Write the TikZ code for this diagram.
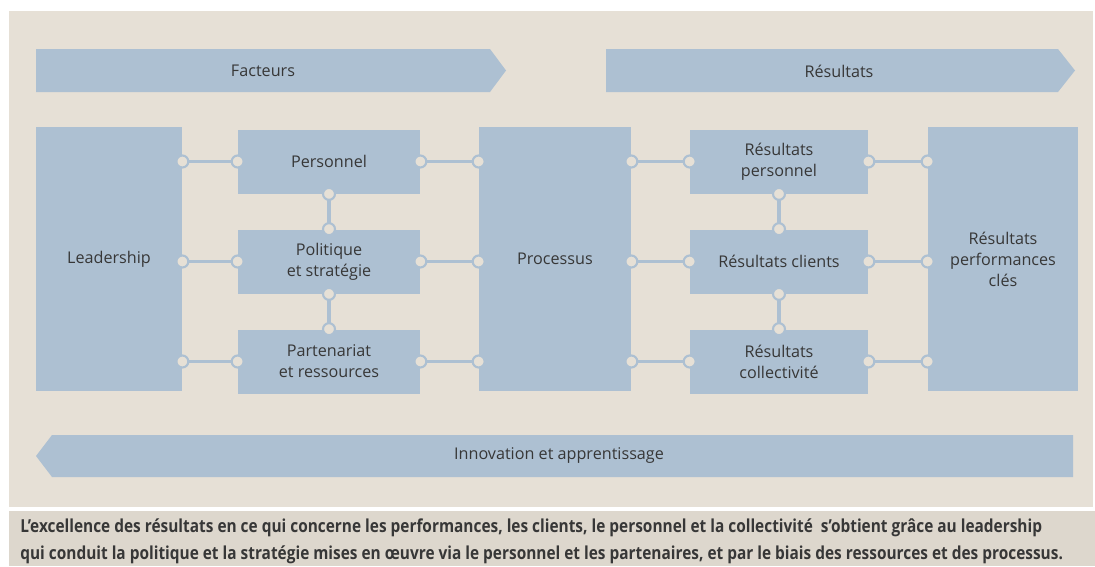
\documentclass[tikz,border=0pt]{standalone}
\usepackage{fontspec}
\setmainfont{Open Sans}
\newfontfamily\capfont[FakeStretch=0.86]{Open Sans}
\usetikzlibrary{positioning}

\definecolor{bgbeige}{RGB}{230,224,214}
\definecolor{capbeige}{RGB}{221,215,205}
\definecolor{boxblue}{RGB}{173,192,210}
\definecolor{txtgray}{RGB}{55,55,55}

\tikzset{
    box/.style={fill=boxblue, text=txtgray, align=center, inner sep=0pt,
        font=\fontsize{9.2}{12}\selectfont},
    bigbox/.style={box, minimum width=146*0.02cm, minimum height=264*0.02cm},
    smallbox/.style={box, minimum width=182*0.02cm, minimum height=64*0.02cm},
    link/.style={draw=boxblue, line width=2.2pt},
    dot/.style={circle, draw=boxblue, fill=bgbeige, line width=1.2pt,
        minimum size=6.8pt, inner sep=0pt},
    label/.style={text=txtgray, font=\fontsize{9.2}{12}\selectfont}
}

\begin{document}
\begin{tikzpicture}[x=0.02cm, y=-0.02cm]
    % Frame and background
    \useasboundingbox (0,0) rectangle (1095,566);
    \fill[white] (0,0) rectangle (1095,566);
    \fill[bgbeige] (9,11) rectangle (1093,507);
    \fill[capbeige] (9,511) rectangle (1095,566);

    % Top and bottom arrows
    \fill[boxblue] (36,49) -- (490,49) -- (506,70.5) -- (490,92) -- (36,92) -- cycle;
    \node[label] (facteurs) at (263,71) {Facteurs};
    \fill[boxblue] (606,49) -- (1058,49) -- (1075,70.5) -- (1058,92) -- (606,92) -- cycle;
    \node[label] (resultats) at (839,71) {Résultats};
    \fill[boxblue] (52,435) -- (1073,435) -- (1073,477) -- (52,477) -- (36,456) -- cycle;
    \node[label] (innov) at (559,455) {Innovation et apprentissage};

    % Boxes
    \node[bigbox] (lead) at (109,259) {Leadership};
    \node[smallbox] (pers) at (329,161.5) {Personnel};
    \node[smallbox] (pol) at (329,261.5) {Politique\\et stratégie};
    \node[smallbox] (part) at (329,361.5) {Partenariat\\et ressources};
    \node[bigbox, minimum width=152*0.02cm] (proc) at (555,259) {Processus};
    \node[smallbox, minimum width=178*0.02cm] (rpers) at (779,161.5) {Résultats\\personnel};
    \node[smallbox, minimum width=178*0.02cm] (rcli) at (779,261.5) {Résultats clients};
    \node[smallbox, minimum width=178*0.02cm] (rcol) at (779,361.5) {Résultats\\collectivité};
    \node[bigbox, minimum width=150*0.02cm] (rkey) at (1003,259) {Résultats\\performances\\clés};

    % Horizontal links
    \foreach \a/\b in {lead/pers, lead/pol, lead/part, proc/rpers, proc/rcli, proc/rcol}
        \draw[link] (\a.east |- \b.west) -- (\b.west) node[dot, pos=0] {} node[dot, pos=1] {};
    \foreach \a/\b in {pers/proc, pol/proc, part/proc, rpers/rkey, rcli/rkey, rcol/rkey}
        \draw[link] (\a.east) -- (\a.east -| \b.west) node[dot, pos=0] {} node[dot, pos=1] {};

    % Vertical links
    \foreach \a/\b in {pers/pol, pol/part, rpers/rcli, rcli/rcol}
        \draw[link] (\a.south) -- (\b.north) node[dot, pos=0] {} node[dot, pos=1] {};

    % Caption
    \node[anchor=west, text=txtgray, align=left, inner sep=0pt,
        font=\capfont\bfseries\fontsize{10.2}{15.3}\selectfont] (caption) at (20,541)
        {L’excellence des résultats en ce qui concerne les performances, les clients, le personnel et la collectivité \ s’obtient grâce au leadership\\
        qui conduit la politique et la stratégie mises en œuvre via le personnel et les partenaires, et par le biais des ressources et des processus.};
\end{tikzpicture}
\end{document}
